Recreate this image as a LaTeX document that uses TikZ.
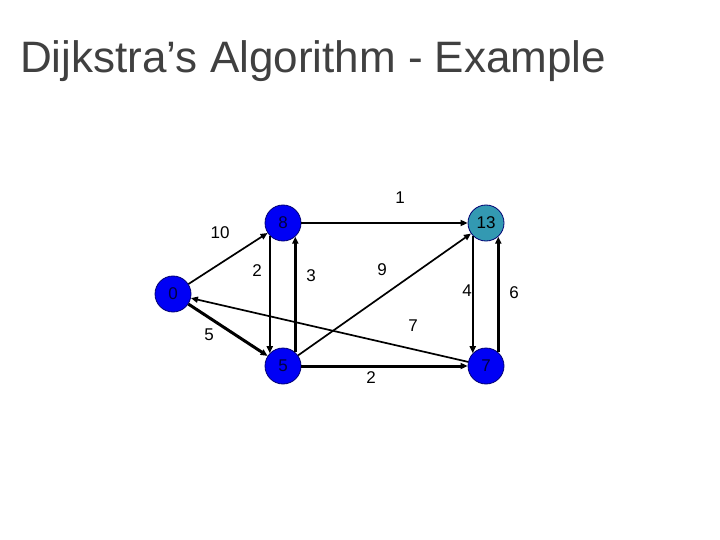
\documentclass[tikz,border=0pt]{standalone}
\usepackage{fontspec}
\setmainfont{Liberation Sans}
\usepackage{xcolor}
\usetikzlibrary{arrows.meta}

\definecolor{vblue}{RGB}{0,0,245}
\definecolor{vteal}{RGB}{51,153,178}
\definecolor{titlegray}{RGB}{64,64,64}

\begin{document}
\begin{tikzpicture}[x=1pt, y=-1pt,
    vtx/.style={circle, draw=blue!45!black, line width=0.8pt, fill=vblue, inner sep=0pt, minimum size=36pt, text=black!75!blue, font=\fontsize{17}{20}\selectfont},
    wlabel/.style={inner sep=0pt, font=\fontsize{17}{20}\selectfont},
    edge/.style={-{Triangle[length=7pt,width=6pt]}, line width=1.7pt},
    tree/.style={edge, line width=3pt}]
    \useasboundingbox (0,0) rectangle (720,540);
    \node[anchor=base west, inner sep=0pt, text=titlegray, font=\fontsize{44}{52}\selectfont] (title) at (20,73) {Dijkstra’s Algorithm - Example};

    \node[vtx] (n0) at (173,294) {0};
    \node[vtx] (n8) at (283,223) {8};
    \node[vtx, fill=vteal, text=black] (n13) at (486,223) {13};
    \node[vtx] (n5) at (283,366) {5};
    \node[vtx] (n7) at (486,366) {7};

    \draw[edge] (n0) -- (n8);
    \draw[tree] (n0) -- (n5);
    \draw[edge] (n8) -- (n13);
    \draw[edge] (n8.224) -- (n5.136);
    \draw[tree] (n5.48) -- (n8.312);
    \draw[edge] (n5) -- (n13);
    \draw[tree] (n5) -- (n7);
    \draw[edge] (n13.224) -- (n7.136);
    \draw[tree] (n7.48) -- (n13.312);
    \draw[edge] (n7) -- (n0);

    \node[wlabel] (w1) at (400,198) {1};
    \node[wlabel] (w10) at (220,233) {10};
    \node[wlabel] (w2a) at (257,271) {2};
    \node[wlabel] (w3) at (311,276) {3};
    \node[wlabel] (w9) at (382,270) {9};
    \node[wlabel] (w4) at (467,291) {4};
    \node[wlabel] (w6) at (514,293) {6};
    \node[wlabel] (w7) at (413,326) {7};
    \node[wlabel] (w5) at (209,335) {5};
    \node[wlabel] (w2b) at (371,378) {2};
\end{tikzpicture}
\end{document}
